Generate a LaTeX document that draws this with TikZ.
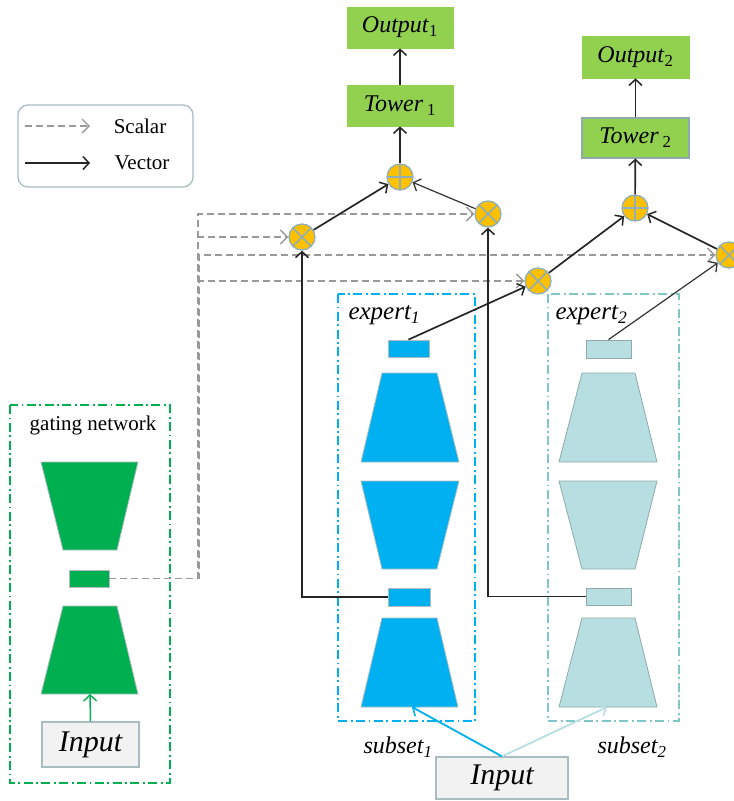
\documentclass[tikz,border=0pt]{standalone}
\usepackage{fontspec}
\setmainfont{Liberation Serif}
\usetikzlibrary{arrows.meta,calc}
\definecolor{tgreen}{HTML}{92D050}
\definecolor{ggreen}{HTML}{00B050}
\definecolor{eblue}{HTML}{00B0F0}
\definecolor{eteal}{HTML}{B7DEE0}
\definecolor{tealdash}{HTML}{7FC6C8}
\definecolor{tealedge}{HTML}{8EAAAC}
\definecolor{circfill}{HTML}{FFC000}
\definecolor{circline}{HTML}{8FB0B8}
\definecolor{scal}{HTML}{999999}
\definecolor{inbox}{HTML}{F2F2F2}
\definecolor{inborder}{HTML}{A9BCC0}
\definecolor{shapeedge}{HTML}{B0BCC0}
\begin{document}
\begin{tikzpicture}[x=1pt,y=-1pt,
  font=\fontsize{24}{28}\selectfont,
  greenbox/.style={draw=tgreen,fill=tgreen,line width=0.8pt,inner sep=0pt},
  opcirc/.style={circle,fill=circfill,draw=circline,line width=1.3pt,minimum size=26pt,inner sep=0pt},
  otimes/.style={opcirc,path picture={
      \draw[circline,line width=1.5pt] (path picture bounding box.center) ++(45:14pt) -- ++(225:28pt);
      \draw[circline,line width=1.5pt] (path picture bounding box.center) ++(135:14pt) -- ++(315:28pt);}},
  oplus/.style={opcirc,path picture={
      \draw[circline,line width=1.5pt] (path picture bounding box.north) -- (path picture bounding box.south);
      \draw[circline,line width=1.5pt] (path picture bounding box.west) -- (path picture bounding box.east);}},
  vec/.style={draw=black!85,line width=1.7pt,-{Straight Barb[length=6pt,width=13pt,line width=1.5pt]}},
  vecthin/.style={draw=black!80,line width=1.2pt,-{Straight Barb[length=6pt,width=13pt,line width=1.3pt]}},
  scalar/.style={draw=scal,line width=1.8pt,dash pattern=on 7pt off 4pt,-{Straight Barb[length=7pt,width=14pt,line width=1.4pt]}},
  dashdot/.style={line width=1.8pt,dash pattern=on 9pt off 3.5pt on 1.8pt off 3.5pt},
  inputbox/.style={draw=inborder,fill=inbox,line width=1.2pt,inner sep=0pt,font=\fontsize{30}{34}\selectfont\itshape},
  e1shape/.style={fill=eblue,draw=shapeedge,line width=0.8pt},
  e2shape/.style={fill=eteal,draw=tealedge,line width=0.8pt},
  gshape/.style={fill=ggreen,draw=shapeedge,line width=0.8pt}
]
\useasboundingbox (0,0) rectangle (734,801);

% ---------- legend ----------
\node[draw=inborder,line width=1.3pt,rounded corners=10pt,minimum width=175pt,minimum height=82pt] (legend) at (105.5,146) {};
\coordinate (ls1) at (25,126);
\coordinate (ls2) at (90,126);
\coordinate (lv1) at (25,163);
\coordinate (lv2) at (90,163);
\draw[scalar] (ls1) -- (ls2);
\draw[vec] (lv1) -- (lv2);
\node[font=\fontsize{21}{24}\selectfont] (lscalar) at (140,126) {Scalar};
\node[font=\fontsize{21}{24}\selectfont] (lvector) at (142,163) {Vector};

% ---------- towers and outputs ----------
\node[greenbox,minimum width=106pt,minimum height=41pt] (o1) at (400,27.5) {\textit{Output}\textsubscript{1}};
\node[greenbox,minimum width=106pt,minimum height=41pt] (t1) at (400,105.5) {\textit{Tower}\,\textsubscript{1}};
\node[greenbox,minimum width=107pt,minimum height=42pt] (o2) at (635.5,57) {\textit{Output}\textsubscript{2}};
\node[greenbox,draw=tealedge,line width=1.2pt,minimum width=107pt,minimum height=40pt] (t2) at (635.5,138) {\textit{Tower}\,\textsubscript{2}};

% ---------- operators ----------
\node[oplus] (p1) at (400,177) {};
\node[oplus] (p2) at (635,208) {};
\node[otimes] (x11) at (302,237) {};
\node[otimes] (x12) at (488,214) {};
\node[otimes] (x21) at (538,281) {};
\node[otimes] (x22) at (729,255) {};

% ---------- gating network ----------
\draw[dashdot,draw=ggreen] (10,405) rectangle (170,783);
\node[font=\fontsize{21}{24}\selectfont] (gtitle) at (93,425) {gating network};
\draw[gshape] (41,462) -- (138,462) -- (117,550) -- (63,550) -- cycle;
\node[fill=ggreen,draw=shapeedge,line width=0.8pt,minimum width=40pt,minimum height=17pt,inner sep=0pt] (gr) at (89,578.5) {};
\draw[gshape] (63,606) -- (117,606) -- (138,694) -- (41,694) -- cycle;
\coordinate (gbot) at (90,694);
\node[inputbox,minimum width=97pt,minimum height=45pt] (ginp) at (90.5,744.5) {Input};
\draw[draw=ggreen,line width=1.5pt,-{Straight Barb[length=6pt,width=13pt,line width=1.4pt]}] (ginp.north) -- (gbot);

% ---------- expert 1 ----------
\draw[dashdot,draw=eblue] (338,294) rectangle (475,721);
\node[anchor=west] (e1label) at (345,315) {\fontsize{25}{28}\selectfont\textit{expert\textsubscript{1}}};
\node[fill=eblue,draw=shapeedge,line width=0.8pt,minimum width=41pt,minimum height=17pt,inner sep=0pt] (e1t) at (408.5,348.5) {};
\draw[e1shape] (382,373) -- (437,373) -- (459,462) -- (361,462) -- cycle;
\draw[e1shape] (361,481) -- (459,481) -- (437,569) -- (382,569) -- cycle;
\node[fill=eblue,draw=shapeedge,line width=0.8pt,minimum width=42pt,minimum height=18pt,inner sep=0pt] (e1b) at (409,597) {};
\draw[e1shape] (382,618) -- (437,618) -- (458,707) -- (361,707) -- cycle;
\coordinate (e1bot) at (412,707);

% ---------- expert 2 ----------
\draw[dashdot,draw=tealdash] (548,294) rectangle (679,721);
\node[anchor=west] (e2label) at (552,315) {\fontsize{25}{28}\selectfont\textit{expert\textsubscript{2}}};
\node[fill=eteal,draw=tealedge,line width=0.8pt,minimum width=45pt,minimum height=18pt,inner sep=0pt] (e2t) at (608.5,349) {};
\draw[e2shape] (582,373) -- (635,373) -- (657,462) -- (559,462) -- cycle;
\draw[e2shape] (559,481) -- (657,481) -- (635,569) -- (582,569) -- cycle;
\node[fill=eteal,draw=tealedge,line width=0.8pt,minimum width=45pt,minimum height=17pt,inner sep=0pt] (e2b) at (608.5,596.5) {};
\draw[e2shape] (582,618) -- (635,618) -- (657,707) -- (559,707) -- cycle;
\coordinate (e2bot) at (607,707);

% ---------- bottom input ----------
\node[inputbox,minimum width=132pt,minimum height=42pt] (inp) at (502,778) {Input};
\node (sub1) at (398,747) {\textit{subset\textsubscript{1}}};
\node (sub2) at (632,747) {\textit{subset\textsubscript{2}}};
\draw[draw=eblue,line width=1.8pt,-{Straight Barb[length=6pt,width=13pt,line width=1.6pt]}] (inp.north) -- (e1bot);
\draw[draw=eteal,line width=1.8pt,-{Straight Barb[length=6pt,width=13pt,line width=1.6pt]}] (inp.north) -- (e2bot);

% ---------- scalar gate paths ----------
\draw[scalar] (gr.east) -| (198,214) -- (x12.west);
\draw[scalar] (gr.east) -| (198,237) -- (x11.west);
\draw[scalar] (gr.east) -| (199,255) -- (x22.west);
\draw[scalar] (gr.east) -| (199,281) -- (x21.west);

% ---------- vector paths ----------
\draw[vec] (e1b.west) -| (x11.south);
\draw[vec] (e2b.west) -| (x12.south);
\draw[vec] (e1t.north) -- (x21);
\draw[vecthin] (e2t.north) -- (x22);
\draw[vec] (x11) -- (p1);
\draw[vecthin] (x12) -- (p1);
\draw[vec] (x21) -- (p2);
\draw[vec] (x22) -- (p2);
\draw[vec] (p1) -- (t1);
\draw[vec] (t1) -- (o1);
\draw[vec] (p2) -- (t2);
\draw[vec] (t2) -- (o2);
\end{tikzpicture}
\end{document}
